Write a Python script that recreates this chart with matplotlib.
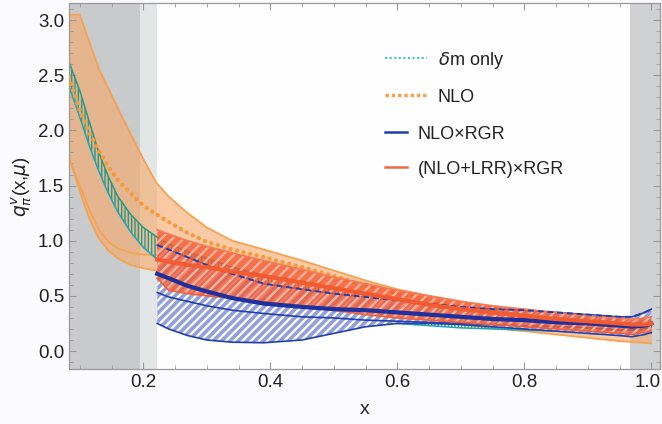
import matplotlib
matplotlib.use('Agg')
import matplotlib.pyplot as plt
from matplotlib.lines import Line2D
import matplotlib.transforms as mtransforms

# NLO band (orange), grid from the left edge
x_nlo = [0.083, 0.10, 0.115, 0.13, 0.145, 0.16, 0.18, 0.20, 0.22, 0.24, 0.27, 0.30, 0.34,
         0.39, 0.45, 0.50, 0.55, 0.60, 0.65, 0.70, 0.75, 0.80, 0.85, 0.90, 0.95, 1.00]
nlo_hi = [3.05, 3.05, 2.80, 2.56, 2.38, 2.20, 1.97, 1.74, 1.53, 1.40, 1.25, 1.12, 1.00,
          0.92, 0.82, 0.73, 0.64, 0.56, 0.50, 0.45, 0.40, 0.36, 0.32, 0.29, 0.26, 0.25]
nlo_lo = [1.75, 1.45, 1.20, 1.02, 0.91, 0.84, 0.78, 0.75, 0.73, 0.70, 0.66, 0.62, 0.57,
          0.51, 0.45, 0.40, 0.35, 0.31, 0.27, 0.24, 0.21, 0.18, 0.15, 0.12, 0.09, 0.07]
nlo_mid = [2.48, 2.18, 1.98, 1.82, 1.67, 1.55, 1.43, 1.32, 1.24, 1.17, 1.07, 0.99, 0.92,
           0.85, 0.76, 0.68, 0.60, 0.52, 0.46, 0.40, 0.35, 0.31, 0.28, 0.25, 0.23, 0.22]
x_nlo2 = [0.083, 0.10, 0.115, 0.13, 0.145, 0.16, 0.18, 0.20, 0.22, 0.24, 0.27, 0.30]
nlo_lo2 = [1.75, 1.50, 1.28, 1.10, 0.99, 0.93, 0.89, 0.875, 0.87, 0.86, 0.85, 0.84]

# delta m only band (teal)
dm_hi = [2.62, 2.36, 2.08, 1.80, 1.58, 1.40, 1.24, 1.12, 1.04, 0.97, 0.90, 0.84, 0.76,
         0.69, 0.62, 0.56, 0.51, 0.46, 0.41, 0.37, 0.33, 0.30, 0.27, 0.25, 0.23, 0.22]
dm_lo = [2.40, 2.12, 1.86, 1.63, 1.43, 1.26, 1.08, 0.94, 0.84, 0.77, 0.68, 0.60, 0.50,
         0.40, 0.33, 0.29, 0.27, 0.25, 0.23, 0.21, 0.20, 0.19, 0.18, 0.17, 0.16, 0.16]

# NLO x RGR (blue) and (NLO+LRR) x RGR (red)
x_rg = [0.222, 0.24, 0.27, 0.30, 0.34, 0.39, 0.45, 0.50, 0.55, 0.60,
        0.65, 0.70, 0.75, 0.80, 0.85, 0.90, 0.95, 0.97, 0.99, 1.00]
blue_hi = [0.96, 0.92, 0.85, 0.78, 0.70, 0.61, 0.56, 0.52, 0.49, 0.46,
           0.43, 0.40, 0.38, 0.37, 0.35, 0.33, 0.31, 0.31, 0.35, 0.38]
blue_mid = [0.70, 0.66, 0.59, 0.54, 0.48, 0.43, 0.40, 0.38, 0.37, 0.35,
            0.33, 0.31, 0.29, 0.28, 0.26, 0.25, 0.23, 0.22, 0.23, 0.25]
blue_sub = [0.53, 0.49, 0.45, 0.41, 0.37, 0.34, 0.31, 0.30, 0.28, 0.27,
            0.26, 0.25, 0.24, 0.23, 0.22, 0.21, 0.19, 0.19, 0.20, 0.22]
blue_lo = [0.25, 0.20, 0.14, 0.10, 0.08, 0.075, 0.10, 0.16, 0.22, 0.25,
           0.25, 0.24, 0.22, 0.20, 0.18, 0.16, 0.14, 0.13, 0.15, 0.17]
red_hi = [1.10, 1.06, 1.00, 0.95, 0.89, 0.82, 0.74, 0.67, 0.61, 0.55,
          0.50, 0.45, 0.41, 0.38, 0.35, 0.32, 0.30, 0.29, 0.30, 0.31]
red_mid = [0.83, 0.81, 0.78, 0.76, 0.72, 0.68, 0.62, 0.57, 0.52, 0.47,
           0.42, 0.38, 0.35, 0.32, 0.29, 0.27, 0.25, 0.24, 0.24, 0.25]
red_lo = [0.66, 0.55, 0.52, 0.50, 0.48, 0.45, 0.40, 0.37, 0.33, 0.30,
          0.28, 0.26, 0.24, 0.22, 0.20, 0.18, 0.16, 0.15, 0.17, 0.18]

labels = [r'$\delta$m only', 'NLO', 'NLO×RGR', '(NLO+LRR)×RGR']

c_nlo = '#f6a253'
c_dm = '#2a9a86'
c_blue = '#2140b0'
c_red = '#f25a30'

plt.rcParams['font.family'] = ['Liberation Sans', 'DejaVu Sans']
plt.rcParams['mathtext.fontset'] = 'dejavusans'
plt.rcParams['hatch.linewidth'] = 1.6

fig = plt.figure(figsize=(6.62, 4.24), dpi=100, facecolor='#fbfbfd')
ax = fig.add_axes([0.1042, 0.1297, 0.893, 0.863])
ax.set_facecolor('#fefefe')
ax.set_xlim(0.083, 1.014)
ax.set_ylim(-0.163, 3.154)

ax.axvspan(0.083, 0.195, color='#c8cacb', lw=0, zorder=0)
ax.axvspan(0.195, 0.222, color='#e2e6e7', lw=0, zorder=0)
ax.axvspan(0.967, 1.014, color='#cfd1d2', lw=0, zorder=0)

# NLO band
ax.fill_between(x_nlo, nlo_lo, nlo_hi, color='#f7a867', alpha=0.6, lw=0, zorder=1)
ax.plot(x_nlo, nlo_hi, color=c_nlo, lw=1.3, zorder=2)
ax.plot(x_nlo, nlo_lo, color=c_nlo, lw=1.3, zorder=2)
ax.plot(x_nlo2, nlo_lo2, color=c_nlo, lw=1.3, zorder=2)

# delta m band
plt.rcParams['hatch.linewidth'] = 1.0
ax.fill_between(x_nlo, dm_lo, dm_hi, facecolor='none', edgecolor=c_dm,
                hatch='|||||', lw=0, zorder=2)
ax.plot(x_nlo, dm_hi, color=c_dm, lw=1.1, zorder=2)
ax.plot(x_nlo, dm_lo, color='#1fa5b5', lw=1.1, zorder=2)

ax.plot(x_nlo, nlo_mid, color='#f79a3e', lw=3.2, ls=(0, (0.01, 1.5)),
        dash_capstyle='round', zorder=3)

# blue band
plt.rcParams['hatch.linewidth'] = 1.6
ax.fill_between(x_rg, blue_lo, blue_hi, facecolor='#93a0da', edgecolor='white',
                hatch='////', lw=0, zorder=3)
for yy in (blue_lo, blue_sub, blue_hi):
    ax.plot(x_rg, yy, color=c_blue, lw=1.2, zorder=4)

# red band
ax.fill_between(x_rg, red_lo, red_hi, facecolor='#f45a35', edgecolor='#fbc7b0',
                hatch='///', lw=0, alpha=0.8, zorder=5)
ax.plot(x_rg, red_hi, color='#f47a55', lw=1.2, zorder=6)
ax.plot(x_rg, red_lo, color='#f0603a', lw=1.2, zorder=6)
ax.plot(x_rg, blue_hi, color=c_blue, lw=1.4, ls=(0, (3, 2)), zorder=6)
ax.plot(x_rg, blue_mid, color='#1e2f9e', lw=3.0, zorder=6)
ax.plot(x_rg, red_mid, color=c_red, lw=3.0, zorder=7)

ax.set_xticks([0.2, 0.4, 0.6, 0.8, 1.0])
ax.set_xticks([0.1 + 0.05 * i for i in range(19)], minor=True)
ax.set_yticks([0.0, 0.5, 1.0, 1.5, 2.0, 2.5, 3.0])
ax.set_yticks([-0.1 + 0.1 * i for i in range(33)], minor=True)
ax.tick_params(which='both', direction='in', top=True, right=True,
               color='#9a9a9a', labelsize=13.5, labelcolor='#222222')
ax.tick_params(which='major', length=5, width=0.8)
ax.tick_params(which='minor', length=3, width=0.6)
for s in ax.spines.values():
    s.set_color('#9a9a9a')
    s.set_linewidth(0.9)

# keep the last x label inside the canvas
last = ax.get_xticklabels()[-1]
last.set_transform(last.get_transform() +
                   mtransforms.ScaledTranslation(-4 / 100, 0, fig.dpi_scale_trans))

ax.set_xlabel('x', fontsize=14, color='#222222', labelpad=7)
ax.set_ylabel(r'$q_{\pi}^{v}$(x,$\mu$)', fontsize=13.5, color='#222222', labelpad=3)

handles = [
    Line2D([], [], color='#33c8cc', lw=1.5, ls=(0, (1, 1.2))),
    Line2D([], [], color=c_nlo, lw=2.5, ls=(0, (1, 0.8))),
    Line2D([], [], color=c_blue, lw=1.8),
    Line2D([], [], color='#f26a45', lw=1.8),
]
leg1 = ax.legend(handles[:2], labels[:2], loc='upper left', bbox_to_anchor=(0.535, 0.873),
                 frameon=False, fontsize=13, labelspacing=1.0, handlelength=2.3,
                 handletextpad=0.6, borderpad=0, borderaxespad=0)
ax.add_artist(leg1)
leg2 = ax.legend(handles[2:], labels[2:], loc='upper left', bbox_to_anchor=(0.535, 0.665),
                 frameon=False, fontsize=13, labelspacing=1.0, handlelength=1.2,
                 handletextpad=0.6, borderpad=0, borderaxespad=0)
for lg in (leg1, leg2):
    for t in lg.get_texts():
        t.set_color('#222222')

fig.savefig('out.png', dpi=100, facecolor=fig.get_facecolor())
